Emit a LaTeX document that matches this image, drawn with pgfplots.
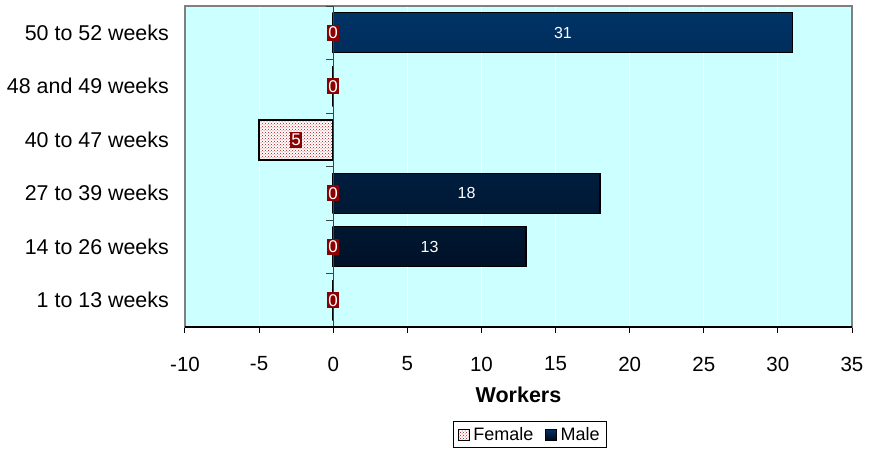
\documentclass[border=0pt]{standalone}
\usepackage{pgfplots}
\pgfplotsset{compat=1.18}
\usepackage{pgfplotstable}
\usepackage{fontspec}
\setmainfont{Liberation Sans}
\usetikzlibrary{patterns}

\definecolor{plotbg}{HTML}{CCFFFF}
\definecolor{maletop}{HTML}{003366}
\definecolor{malebot}{HTML}{000A1A}
\definecolor{femdot}{HTML}{B01010}
\definecolor{labred}{HTML}{8B0000}
\definecolor{framegray}{HTML}{808080}

% weeks worked, bottom (0) to top (5)
\pgfplotstableread{
cat female flab male
0 0 0 0
1 0 0 13
2 0 0 18
3 -5 5 0
4 0 0 0
5 0 0 31
}\weeks

% male values that carry a label
\pgfplotstableread{
cat male
1 13
2 18
5 31
}\malelab

\begin{document}
\begin{tikzpicture}
\path[use as bounding box] (-185pt,-125pt) rectangle (693pt,327pt);
\begin{axis}[
    at={(0pt,0pt)}, anchor=south west,
    scale only axis, width=667pt, height=321pt,
    xmin=-10, xmax=35, ymin=-0.5, ymax=5.5,
    xtick={-10,-5,...,35},
    xticklabels={-10,-5,0,5,10,15,20,25,30,35},
    xtick pos=bottom,
    ytick={0,...,5},
    yticklabels={1 to 13 weeks,14 to 26 weeks,27 to 39 weeks,40 to 47 weeks,48 and 49 weeks,50 to 52 weeks},
    ytick style={draw=none},
    tick align=outside,
    major tick length=6pt,
    xtick style={black, line width=1pt},
    xticklabel style={font=\fontsize{20.5}{24}\selectfont, anchor=center, yshift=-31pt},
    yticklabel style={font=\fontsize{21.4}{24}\selectfont, anchor=east, inner sep=0pt, xshift=-10pt},
    xlabel={\textbf{Workers}},
    xlabel style={font=\fontsize{21.5}{24}\selectfont, at={(axis description cs:0.5,-0.212)}, anchor=center},
    axis background/.style={fill=plotbg},
    axis line style={framegray, line width=2pt},
    xmajorgrids, grid style={white, line width=1pt},
    legend style={at={(0.517,-0.335)}, anchor=center, draw=black, line width=0.8pt,
        font=\fontsize{18}{20}\selectfont, legend columns=2,
        /tikz/every odd column/.append style={column sep=1.5pt},
        /tikz/every even column/.append style={column sep=10pt},
        inner xsep=5pt, inner ysep=4pt},
    legend image code/.code={\draw[#1, line width=0.8pt] (0pt,-5.5pt) rectangle (11pt,5.5pt);},
]
% female bars
\addplot[xbar, bar width=0.75, bar shift=0pt, draw=black, line width=2pt,
    fill=white, postaction={pattern=crosshatch dots, pattern color=femdot}]
    table[x=female, y=cat] {\weeks};
\addlegendentry{Female}
% male bars
\addplot[xbar, bar width=0.75, bar shift=0pt, draw=black, line width=1.3pt,
    top color=maletop, bottom color=malebot]
    table[x=male, y=cat] {\weeks};
\addlegendentry{Male}
% category axis at zero, ticks between categories
\draw[black!75, line width=1.2pt] (axis cs:0,-0.5) -- (axis cs:0,5.5);
\pgfplotsinvokeforeach{-0.5,0.5,1.5,2.5,3.5,4.5,5.5}{
    \draw[black!75, line width=1pt] (axis cs:0,#1) -- (axis cs:-0.47,#1);
}
% male labels at bar centres
\addplot[forget plot, draw=none, mark=none,
    point meta=explicit,
    nodes near coords,
    /pgf/number format/assume math mode=true,
    every node near coord/.append style={anchor=center, text=white,
        font=\fontsize{16}{18}\selectfont}]
    table[x expr=\thisrow{male}/2, y=cat, meta=male] {\malelab};
% female labels, boxed
\addplot[forget plot, draw=none, mark=none,
    point meta=explicit symbolic,
    nodes near coords,
    every node near coord/.append style={anchor=center, fill=labred, text=white,
        inner xsep=1pt, inner ysep=2pt,
        font=\fontsize{17}{18}\selectfont}]
    table[x expr=\thisrow{female}/2, y=cat, meta=flab] {\weeks};
\draw[black, line width=1.5pt] (rel axis cs:0,0) -- (rel axis cs:1,0);
\end{axis}
\end{tikzpicture}
\end{document}
